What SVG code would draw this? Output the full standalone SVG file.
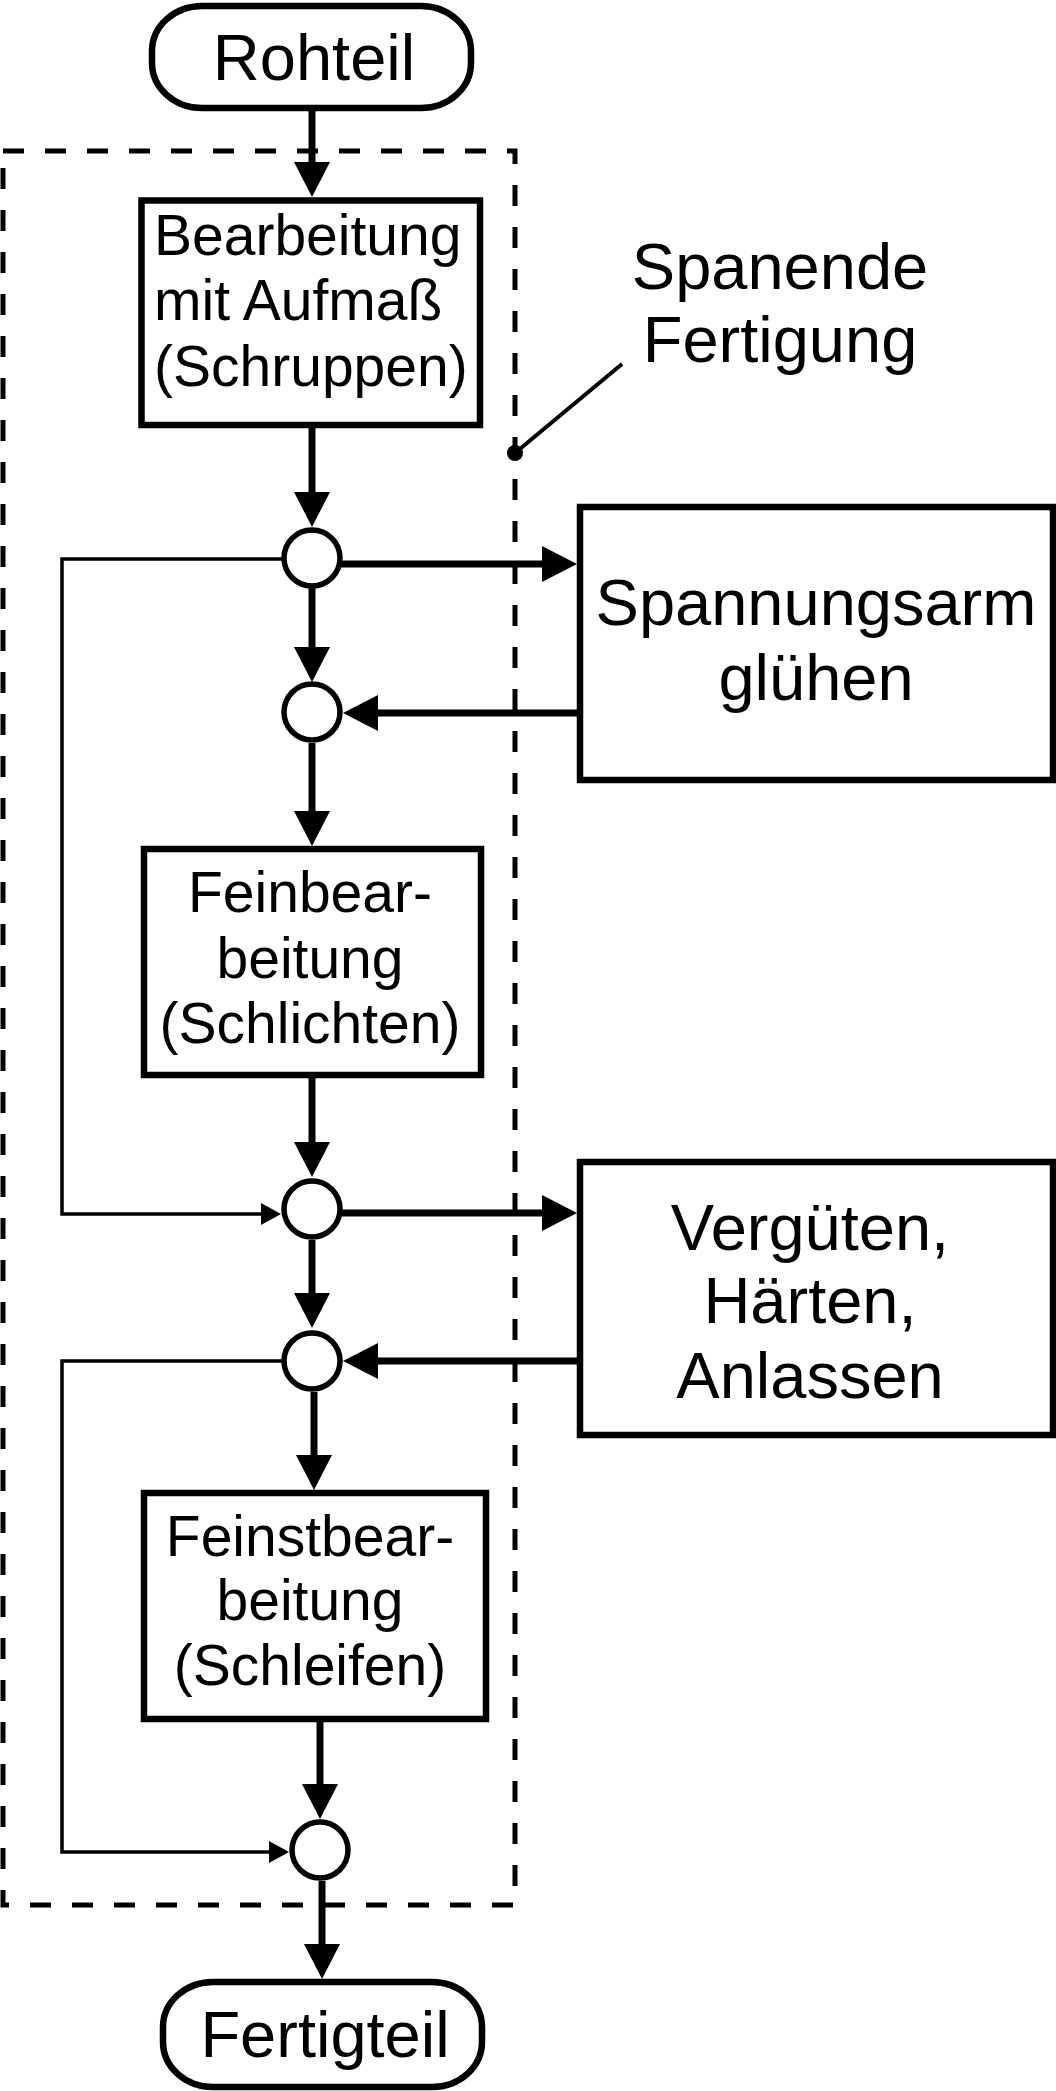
<svg xmlns="http://www.w3.org/2000/svg" width="1056" height="2091" viewBox="0 0 1056 2091">
<style>
text{font-family:"Liberation Sans",Arial,sans-serif;fill:#000}
.big{font-size:65px;text-anchor:middle}
.mid{font-size:57px;text-anchor:middle}
.box{fill:#fff;stroke:#000;stroke-width:6.5}
.circ{fill:#fff;stroke:#000;stroke-width:5.5}
.thick{fill:none;stroke:#000;stroke-width:7}
.thin{fill:none;stroke:#000;stroke-width:3.5}
</style>
<defs>
<marker id="ah" markerUnits="userSpaceOnUse" markerWidth="40" markerHeight="40" refX="15" refY="18" orient="auto"><path d="M0,0 L35,18 L0,36 z" fill="#000"/></marker>
<marker id="aht" markerUnits="userSpaceOnUse" markerWidth="24" markerHeight="24" refX="8" refY="11" orient="auto"><path d="M0,0 L20,11 L0,22 z" fill="#000"/></marker>
</defs>
<rect width="1056" height="2091" fill="#fff"/>
<g id="region">
<rect x="3" y="151" width="512" height="1754" fill="none" stroke="#000" stroke-width="5" stroke-dasharray="21 21"/>
</g>
<g id="connectors">
<path class="thick" d="M312,108 V177" marker-end="url(#ah)"/>
<path class="thick" d="M312,428 V507" marker-end="url(#ah)"/>
<path class="thick" d="M312,587 V662" marker-end="url(#ah)"/>
<path class="thick" d="M312,743 V826" marker-end="url(#ah)"/>
<path class="thick" d="M312,1078 V1157" marker-end="url(#ah)"/>
<path class="thick" d="M312,1240 V1308" marker-end="url(#ah)"/>
<path class="thick" d="M314,1392 V1470" marker-end="url(#ah)"/>
<path class="thick" d="M320,1722 V1799" marker-end="url(#ah)"/>
<path class="thick" d="M322,1881 V1959" marker-end="url(#ah)"/>
<path class="thick" d="M340,564 H557" marker-end="url(#ah)"/>
<path class="thick" d="M577,713 H363" marker-end="url(#ah)"/>
<path class="thick" d="M340,1213 H557" marker-end="url(#ah)"/>
<path class="thick" d="M577,1361 H363" marker-end="url(#ah)"/>
<path class="thin" d="M284,559 H62 V1214 H269" marker-end="url(#aht)"/>
<path class="thin" d="M284,1361 H62 V1852 H277" marker-end="url(#aht)"/>
</g>
<g id="rohteil">
<rect class="box" x="152" y="6" width="319" height="102" rx="50" ry="45"/>
<text class="big" x="314" y="80">Rohteil</text>
</g>
<g id="schruppen">
<rect class="box" x="141.5" y="200.5" width="338.5" height="224.5"/>
<text x="154" y="255" style="font-size:57px">Bearbeitung</text>
<text x="154" y="320" style="font-size:57px">mit Aufmaß</text>
<text x="154" y="386" style="font-size:57px">(Schruppen)</text>
</g>
<g id="c1"><circle class="circ" cx="312" cy="558" r="28"/></g>
<g id="c2"><circle class="circ" cx="312" cy="712" r="28"/></g>
<g id="spannungsarm">
<rect class="box" x="580" y="507" width="473" height="273"/>
<text class="big" x="816" y="625">Spannungsarm</text>
<text class="big" x="816" y="700">glühen</text>
</g>
<g id="schlichten">
<rect class="box" x="144" y="849" width="337" height="226"/>
<text class="mid" x="310" y="912">Feinbear-</text>
<text class="mid" x="310" y="978">beitung</text>
<text class="mid" x="310" y="1043">(Schlichten)</text>
</g>
<g id="c3"><circle class="circ" cx="312" cy="1209" r="28"/></g>
<g id="c4"><circle class="circ" cx="312" cy="1361" r="28"/></g>
<g id="verguten">
<rect class="box" x="580" y="1162" width="473" height="273"/>
<text class="big" x="810" y="1250">Vergüten,</text>
<text class="big" x="810" y="1323">Härten,</text>
<text class="big" x="810" y="1398">Anlassen</text>
</g>
<g id="schleifen">
<rect class="box" x="144" y="1493" width="342" height="226"/>
<text class="mid" x="310" y="1556">Feinstbear-</text>
<text class="mid" x="310" y="1620">beitung</text>
<text class="mid" x="310" y="1685">(Schleifen)</text>
</g>
<g id="c5"><circle class="circ" cx="320" cy="1850" r="28"/></g>
<g id="fertigteil">
<rect class="box" x="163" y="1982" width="319" height="105" rx="50" ry="45"/>
<text class="big" x="325" y="2057">Fertigteil</text>
</g>
<g id="label">
<line x1="515" y1="453" x2="622" y2="364" stroke="#000" stroke-width="4"/>
<circle cx="515" cy="453" r="8" fill="#000"/>
<text class="big" x="780" y="289">Spanende</text>
<text class="big" x="780" y="362">Fertigung</text>
</g>
</svg>
